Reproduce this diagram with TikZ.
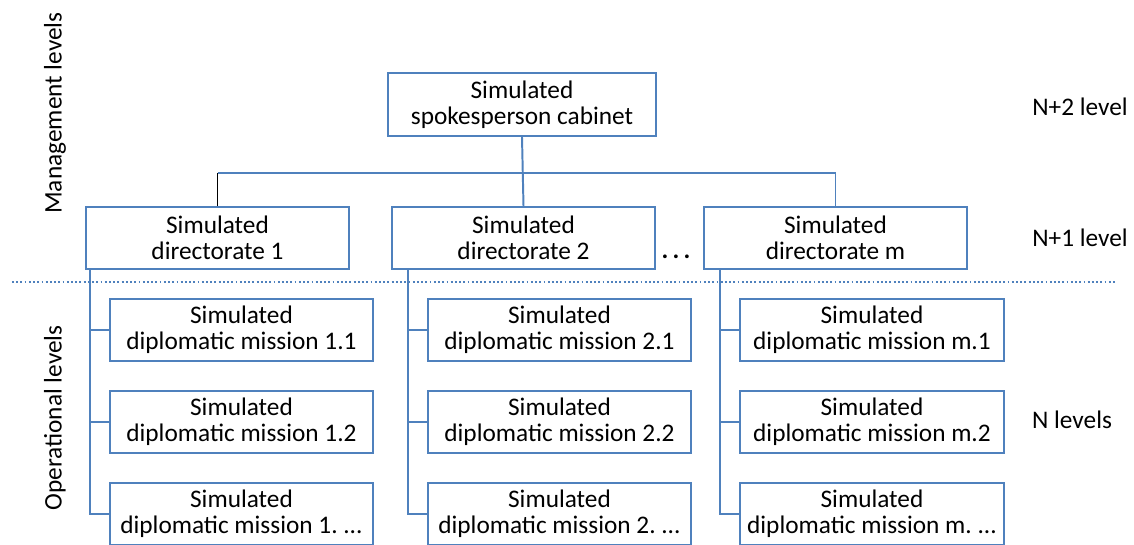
\documentclass[tikz,border=0pt]{standalone}
\usepackage{fontspec}
\setmainfont{Carlito}
\usepackage{tikz}
\usetikzlibrary{positioning}

\definecolor{boxblue}{RGB}{79,129,189}
\newcommand{\etcmission}{\ ...}

\begin{document}
\begin{tikzpicture}[
  x=0.025cm, y=-0.025cm,
  box/.style={draw=boxblue, line width=1.4pt, fill=white, align=center,
    inner sep=0pt, minimum width=6.575cm, minimum height=1.55cm,
    font=\fontsize{18}{18.6}\selectfont},
  link/.style={draw=boxblue, line width=1.4pt},
  lab/.style={font=\fontsize{18}{21}\selectfont},
]
\useasboundingbox (0,0) rectangle (1134,545);

% Management levels: cabinet + directorates
\node[box, minimum width=6.7cm, minimum height=1.575cm] (cab) at (522,104.5)
  {Simulated\\spokesperson cabinet};
\node[box] (dir1) at (217.5,238) {Simulated\\directorate 1};
\node[box] (dir2) at (523.5,238) {Simulated\\directorate 2};
\node[box] (dirm) at (835.5,238) {Simulated\\directorate m};
\node[lab, anchor=base, font=\fontsize{18}{21}\bfseries] (more) at (676,259) {.\,.\,.};

\coordinate (bus) at (522,173);
\draw[link] (cab.south) -- (dir2.north);
\draw[black, line width=1.4pt] (dir1.north) -- (dir1.north |- bus);
\draw[link] (dir1.north |- bus) -| (dirm.north);

% border between the two groups
\draw[boxblue, line width=1pt, dash pattern=on 1.3pt off 1.7pt] (12,282) -- (1115,282);

% Operational levels: missions under each directorate
\foreach \c/\x in {1/241.5, 2/559.5, m/872} {
  \foreach \r/\y/\s in {1/330/1, 2/422/2, 3/514/\etcmission} {
    \node[box] (mis-\c-\r) at (\x,\y) {Simulated\\diplomatic mission \c.\s};
  }
  \coordinate (trunk\c) at ([xshift=-0.475cm]mis-\c-1.west |- dir\c.south);
  \draw[link] (trunk\c) |- (mis-\c-3.west);
  \draw[link] (mis-\c-1.west) -- (mis-\c-1.west -| trunk\c);
  \draw[link] (mis-\c-2.west) -- (mis-\c-2.west -| trunk\c);
}

% level labels
\node[lab, rotate=90] (mgmt) at (55,113) {Management levels};
\node[lab, rotate=90] (oper) at (55,418) {Operational levels};
\node[lab] (lvl2) at (1080,107) {N+2 level};
\node[lab] (lvl1) at (1080,238) {N+1 level};
\node[lab] (lvl0) at (1072,420) {N levels};

\end{tikzpicture}
\end{document}
